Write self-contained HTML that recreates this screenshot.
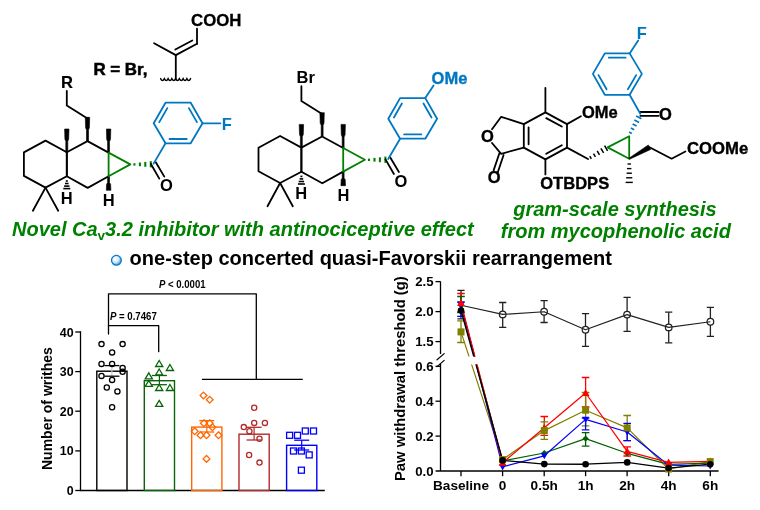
<!DOCTYPE html>
<html><head><meta charset="utf-8"><style>
html,body{margin:0;padding:0;background:#fff;}
body{width:760px;height:510px;overflow:hidden;}
svg{display:block;font-family:"Liberation Sans",Arial,sans-serif;}
</style></head><body>
<svg width="760" height="510" viewBox="0 0 760 510">
<rect width="760" height="510" fill="#fff"/>
<g id="structures">
<polyline points="66.8,152.2 45.5,140.6 23.9,152.4 23.9,175.9 45.5,187.6 66.8,176.3 66.8,152.2 87.5,141.1 108.6,152.6" fill="none" stroke="#000" stroke-width="1.8" stroke-linejoin="round" stroke-linecap="round"/>
<polyline points="108.6,176.2 87.7,187.9 66.8,176.3" fill="none" stroke="#000" stroke-width="1.8" stroke-linejoin="round" stroke-linecap="round"/>
<line x1="66.8" y1="152.2" x2="66.8" y2="176.3" stroke="#000" stroke-width="1.8" stroke-linecap="round"/>
<line x1="45.5" y1="187.6" x2="32.9" y2="210.8" stroke="#000" stroke-width="1.8" stroke-linecap="round"/>
<line x1="45.5" y1="187.6" x2="58.2" y2="210.8" stroke="#000" stroke-width="1.8" stroke-linecap="round"/>
<polygon points="67.8,152.2 67.8,141.3 68.7,139.2 69.0,129.0 64.6,129.0 64.9,139.2 65.8,141.3 65.8,152.2" fill="#000" stroke="#000" stroke-width="0.6" stroke-linejoin="round"/>
<polygon points="88.5,141.1 88.5,129.9 89.4,127.8 89.7,117.3 85.3,117.3 85.6,127.8 86.5,129.9 86.5,141.1" fill="#000" stroke="#000" stroke-width="0.6" stroke-linejoin="round"/>
<polygon points="109.5,152.6 109.5,141.5 110.5,139.4 110.8,129.0 106.4,129.0 106.7,139.4 107.6,141.5 107.6,152.6" fill="#000" stroke="#000" stroke-width="0.6" stroke-linejoin="round"/>
<polygon points="107.6,176.2 107.6,182.8 106.6,184.1 106.3,190.3 110.9,190.3 110.6,184.1 109.5,182.8 109.5,176.2" fill="#000" stroke="#000" stroke-width="0.6" stroke-linejoin="round"/>
<polyline points="87.5,118.5 66.8,105.5 66.8,90.8" fill="none" stroke="#000" stroke-width="1.8" stroke-linejoin="round" stroke-linecap="round"/>
<line x1="65.8" y1="181.0" x2="67.8" y2="181.0" stroke="#000" stroke-width="1.6" stroke-linecap="butt"/>
<line x1="65.0" y1="183.5" x2="68.6" y2="183.5" stroke="#000" stroke-width="1.6" stroke-linecap="butt"/>
<line x1="64.1" y1="186.1" x2="69.5" y2="186.1" stroke="#000" stroke-width="1.6" stroke-linecap="butt"/>
<line x1="63.3" y1="188.6" x2="70.3" y2="188.6" stroke="#000" stroke-width="1.6" stroke-linecap="butt"/>
<polygon points="108.6,152.6 130.3,164.4 108.6,176.2" fill="none" stroke="#008000" stroke-width="1.8" stroke-linejoin="round" stroke-linecap="round"/>
<line x1="134.4" y1="165.6" x2="134.4" y2="163.2" stroke="#008000" stroke-width="2.1" stroke-linecap="butt"/>
<line x1="139.9" y1="166.2" x2="139.9" y2="162.5" stroke="#008000" stroke-width="2.1" stroke-linecap="butt"/>
<line x1="145.3" y1="166.8" x2="145.3" y2="161.9" stroke="#008000" stroke-width="2.1" stroke-linecap="butt"/>
<line x1="150.8" y1="167.4" x2="150.8" y2="161.2" stroke="#008000" stroke-width="2.1" stroke-linecap="butt"/>
<line x1="150.9" y1="164.0" x2="159.3" y2="178.6" stroke="#000" stroke-width="1.8" stroke-linecap="round"/>
<line x1="155.8" y1="162.3" x2="164.3" y2="176.6" stroke="#000" stroke-width="1.8" stroke-linecap="round"/>
<text x="166.3" y="191.3" font-size="16.5" font-weight="bold" font-style="normal" fill="#000" text-anchor="middle" >O</text>
<text x="66.6" y="203.8" font-size="16.5" font-weight="bold" font-style="normal" fill="#000" text-anchor="middle" >H</text>
<text x="108.8" y="205.6" font-size="16.5" font-weight="bold" font-style="normal" fill="#000" text-anchor="middle" >H</text>
<text x="66.9" y="87.8" font-size="16.5" font-weight="bold" font-style="normal" fill="#000" text-anchor="middle" stroke="#000" stroke-width="0.2" >R</text>
<polygon points="165.5,102.7 190.7,102.7 202.5,123.3 190.7,143.3 165.5,143.3 153.7,123.3" fill="none" stroke="#0078c1" stroke-width="1.8" stroke-linejoin="round" stroke-linecap="round"/>
<line x1="159.3" y1="122.1" x2="167.3" y2="108.1" stroke="#0078c1" stroke-width="1.8" stroke-linecap="round"/>
<line x1="188.9" y1="108.1" x2="196.9" y2="122.1" stroke="#0078c1" stroke-width="1.8" stroke-linecap="round"/>
<line x1="169.5" y1="139.0" x2="186.7" y2="139.0" stroke="#0078c1" stroke-width="1.8" stroke-linecap="round"/>
<line x1="165.5" y1="143.3" x2="153.6" y2="163.6" stroke="#0078c1" stroke-width="1.8" stroke-linecap="round"/>
<line x1="202.5" y1="123.3" x2="220.4" y2="123.3" stroke="#0078c1" stroke-width="1.8" stroke-linecap="round"/>
<text x="221.8" y="129.8" font-size="16.5" font-weight="bold" font-style="normal" fill="#0078c1" text-anchor="start" >F</text>
<polyline points="301.4,147.6 280.1,136.0 258.5,147.8 258.5,171.3 280.1,183.0 301.4,171.7 301.4,147.6 322.1,136.5 343.2,148.0" fill="none" stroke="#000" stroke-width="1.8" stroke-linejoin="round" stroke-linecap="round"/>
<polyline points="343.2,171.6 322.3,183.3 301.4,171.7" fill="none" stroke="#000" stroke-width="1.8" stroke-linejoin="round" stroke-linecap="round"/>
<line x1="301.4" y1="147.6" x2="301.4" y2="171.7" stroke="#000" stroke-width="1.8" stroke-linecap="round"/>
<line x1="280.1" y1="183.0" x2="267.5" y2="206.2" stroke="#000" stroke-width="1.8" stroke-linecap="round"/>
<line x1="280.1" y1="183.0" x2="292.8" y2="206.2" stroke="#000" stroke-width="1.8" stroke-linecap="round"/>
<polygon points="302.3,147.6 302.3,136.7 303.3,134.6 303.6,124.4 299.2,124.4 299.5,134.6 300.4,136.7 300.4,147.6" fill="#000" stroke="#000" stroke-width="0.6" stroke-linejoin="round"/>
<polygon points="323.1,136.5 323.1,125.3 324.0,123.2 324.3,112.7 319.9,112.7 320.2,123.2 321.2,125.3 321.2,136.5" fill="#000" stroke="#000" stroke-width="0.6" stroke-linejoin="round"/>
<polygon points="344.1,148.0 344.1,136.9 345.1,134.8 345.4,124.4 341.0,124.4 341.3,134.8 342.2,136.9 342.2,148.0" fill="#000" stroke="#000" stroke-width="0.6" stroke-linejoin="round"/>
<polygon points="342.2,171.6 342.2,178.2 341.2,179.5 340.9,185.7 345.5,185.7 345.2,179.5 344.1,178.2 344.1,171.6" fill="#000" stroke="#000" stroke-width="0.6" stroke-linejoin="round"/>
<polyline points="322.1,113.9 301.4,100.9 301.4,86.2" fill="none" stroke="#000" stroke-width="1.8" stroke-linejoin="round" stroke-linecap="round"/>
<line x1="300.4" y1="176.4" x2="302.4" y2="176.4" stroke="#000" stroke-width="1.6" stroke-linecap="butt"/>
<line x1="299.6" y1="178.9" x2="303.2" y2="178.9" stroke="#000" stroke-width="1.6" stroke-linecap="butt"/>
<line x1="298.7" y1="181.5" x2="304.1" y2="181.5" stroke="#000" stroke-width="1.6" stroke-linecap="butt"/>
<line x1="297.9" y1="184.0" x2="304.9" y2="184.0" stroke="#000" stroke-width="1.6" stroke-linecap="butt"/>
<polygon points="343.2,148.0 364.9,159.8 343.2,171.6" fill="none" stroke="#008000" stroke-width="1.8" stroke-linejoin="round" stroke-linecap="round"/>
<line x1="369.0" y1="161.0" x2="369.0" y2="158.6" stroke="#008000" stroke-width="2.1" stroke-linecap="butt"/>
<line x1="374.5" y1="161.6" x2="374.5" y2="157.9" stroke="#008000" stroke-width="2.1" stroke-linecap="butt"/>
<line x1="379.9" y1="162.2" x2="379.9" y2="157.3" stroke="#008000" stroke-width="2.1" stroke-linecap="butt"/>
<line x1="385.4" y1="162.8" x2="385.4" y2="156.6" stroke="#008000" stroke-width="2.1" stroke-linecap="butt"/>
<line x1="385.5" y1="159.4" x2="393.9" y2="174.0" stroke="#000" stroke-width="1.8" stroke-linecap="round"/>
<line x1="390.4" y1="157.7" x2="398.9" y2="172.0" stroke="#000" stroke-width="1.8" stroke-linecap="round"/>
<text x="400.9" y="186.7" font-size="16.5" font-weight="bold" font-style="normal" fill="#000" text-anchor="middle" >O</text>
<text x="301.2" y="199.2" font-size="16.5" font-weight="bold" font-style="normal" fill="#000" text-anchor="middle" >H</text>
<text x="343.4" y="201.0" font-size="16.5" font-weight="bold" font-style="normal" fill="#000" text-anchor="middle" >H</text>
<text x="296.6" y="83.2" font-size="16.5" font-weight="bold" font-style="normal" fill="#000" text-anchor="start" >Br</text>
<polygon points="400.1,98.1 425.3,98.1 437.1,118.7 425.3,138.7 400.1,138.7 388.3,118.7" fill="none" stroke="#0078c1" stroke-width="1.8" stroke-linejoin="round" stroke-linecap="round"/>
<line x1="393.9" y1="117.5" x2="401.9" y2="103.5" stroke="#0078c1" stroke-width="1.8" stroke-linecap="round"/>
<line x1="423.5" y1="103.5" x2="431.5" y2="117.5" stroke="#0078c1" stroke-width="1.8" stroke-linecap="round"/>
<line x1="404.1" y1="134.4" x2="421.3" y2="134.4" stroke="#0078c1" stroke-width="1.8" stroke-linecap="round"/>
<line x1="400.1" y1="138.7" x2="388.2" y2="159.0" stroke="#0078c1" stroke-width="1.8" stroke-linecap="round"/>
<line x1="425.3" y1="98.1" x2="433.6" y2="85.5" stroke="#0078c1" stroke-width="1.8" stroke-linecap="round"/>
<text x="431.6" y="84.2" font-size="16.5" font-weight="bold" font-style="normal" fill="#0078c1" text-anchor="start" stroke="#0078c1" stroke-width="0.35" >OMe</text>
<text x="93.4" y="75.2" font-size="16.3" font-weight="bold" font-style="normal" fill="#000" text-anchor="start" textLength="54.0" lengthAdjust="spacingAndGlyphs" stroke="#000" stroke-width="0.5">R = Br,</text>
<path d="M160.6,78.6 q1.9,3.9 3.75,0 q1.9,3.9 3.75,0 q1.9,3.9 3.75,0 q1.9,3.9 3.75,0 q1.9,3.9 3.75,0 q1.9,3.9 3.75,0 q1.9,3.9 3.75,0 q1.9,3.9 3.75,0" fill="none" stroke="#000" stroke-width="1.4" stroke-linecap="round" stroke-linejoin="miter"/>
<line x1="175.8" y1="79.4" x2="175.8" y2="55.1" stroke="#000" stroke-width="1.8" stroke-linecap="round"/>
<line x1="175.8" y1="55.1" x2="154.1" y2="43.2" stroke="#000" stroke-width="1.8" stroke-linecap="round"/>
<line x1="175.8" y1="55.1" x2="197.0" y2="43.8" stroke="#000" stroke-width="1.8" stroke-linecap="round"/>
<line x1="175.3" y1="49.5" x2="192.3" y2="40.5" stroke="#000" stroke-width="1.8" stroke-linecap="round"/>
<line x1="197.0" y1="43.8" x2="197.0" y2="28.6" stroke="#000" stroke-width="1.8" stroke-linecap="round"/>
<text x="191.0" y="25.9" font-size="16.5" font-weight="bold" font-style="normal" fill="#000" text-anchor="start" textLength="50.4" lengthAdjust="spacingAndGlyphs" stroke="#000" stroke-width="0.3">COOH</text>
<polygon points="545.4,112.4 567.0,124.1 567.0,147.6 545.4,159.4 523.8,147.6 523.8,124.1" fill="none" stroke="#000" stroke-width="1.8" stroke-linejoin="round" stroke-linecap="round"/>
<line x1="546.2" y1="118.1" x2="561.8" y2="126.5" stroke="#000" stroke-width="1.8" stroke-linecap="round"/>
<line x1="561.8" y1="145.2" x2="546.2" y2="153.7" stroke="#000" stroke-width="1.8" stroke-linecap="round"/>
<line x1="528.6" y1="144.3" x2="528.6" y2="127.4" stroke="#000" stroke-width="1.8" stroke-linecap="round"/>
<line x1="545.4" y1="112.4" x2="545.4" y2="87.8" stroke="#000" stroke-width="1.8" stroke-linecap="round"/>
<polyline points="523.8,124.1 501.2,116.8 492.0,129.2" fill="none" stroke="#000" stroke-width="1.8" stroke-linejoin="round" stroke-linecap="round"/>
<polyline points="492.0,143.0 501.2,153.8 523.8,147.6" fill="none" stroke="#000" stroke-width="1.8" stroke-linejoin="round" stroke-linecap="round"/>
<text x="487.4" y="142.2" font-size="16.5" font-weight="bold" font-style="normal" fill="#000" text-anchor="middle" stroke="#000" stroke-width="0.35" >O</text>
<line x1="499.4" y1="153.2" x2="493.6" y2="170.4" stroke="#000" stroke-width="1.8" stroke-linecap="round"/>
<line x1="503.6" y1="155.0" x2="497.8" y2="172.2" stroke="#000" stroke-width="1.8" stroke-linecap="round"/>
<text x="494.1" y="183.0" font-size="16.5" font-weight="bold" font-style="normal" fill="#000" text-anchor="middle" stroke="#000" stroke-width="0.35" >O</text>
<line x1="567.0" y1="124.1" x2="580.9" y2="116.3" stroke="#000" stroke-width="1.8" stroke-linecap="round"/>
<text x="582.0" y="117.6" font-size="16.5" font-weight="bold" font-style="normal" fill="#000" text-anchor="start" stroke="#000" stroke-width="0.35" >OMe</text>
<line x1="545.4" y1="159.4" x2="545.4" y2="174.4" stroke="#000" stroke-width="1.8" stroke-linecap="round"/>
<text x="540.2" y="188.7" font-size="16.5" font-weight="bold" font-style="normal" fill="#000" text-anchor="start" stroke="#000" stroke-width="0.35" textLength="69.0" lengthAdjust="spacingAndGlyphs">OTBDPS</text>
<line x1="567.0" y1="147.6" x2="588.0" y2="159.0" stroke="#000" stroke-width="1.8" stroke-linecap="round"/>
<line x1="591.3" y1="158.8" x2="589.8" y2="156.2" stroke="#000" stroke-width="1.5" stroke-linecap="butt"/>
<line x1="595.4" y1="156.8" x2="593.5" y2="153.6" stroke="#000" stroke-width="1.5" stroke-linecap="butt"/>
<line x1="599.5" y1="154.8" x2="597.2" y2="150.9" stroke="#000" stroke-width="1.5" stroke-linecap="butt"/>
<line x1="603.6" y1="152.8" x2="600.9" y2="148.3" stroke="#000" stroke-width="1.5" stroke-linecap="butt"/>
<line x1="607.6" y1="150.8" x2="604.6" y2="145.6" stroke="#000" stroke-width="1.5" stroke-linecap="butt"/>
<polygon points="607.6,147.4 629.2,136.2 629.2,158.8" fill="none" stroke="#008000" stroke-width="1.8" stroke-linejoin="round" stroke-linecap="round"/>
<line x1="627.5" y1="164.0" x2="630.9" y2="164.0" stroke="#000" stroke-width="1.4" stroke-linecap="butt"/>
<line x1="627.0" y1="168.6" x2="631.4" y2="168.6" stroke="#000" stroke-width="1.4" stroke-linecap="butt"/>
<line x1="626.6" y1="173.2" x2="631.9" y2="173.2" stroke="#000" stroke-width="1.4" stroke-linecap="butt"/>
<line x1="626.1" y1="177.8" x2="632.3" y2="177.8" stroke="#000" stroke-width="1.4" stroke-linecap="butt"/>
<line x1="625.6" y1="182.4" x2="632.8" y2="182.4" stroke="#000" stroke-width="1.4" stroke-linecap="butt"/>
<polygon points="629.5,159.3 650.7,149.4 648.3,145.0 628.9,158.3" fill="#000" stroke="#000" stroke-width="0.6" stroke-linejoin="round"/>
<polyline points="649.5,147.2 671.6,158.7 685.4,151.5" fill="none" stroke="#000" stroke-width="1.8" stroke-linejoin="round" stroke-linecap="round"/>
<text x="687.0" y="153.7" font-size="16.5" font-weight="bold" font-style="normal" fill="#000" text-anchor="start" stroke="#000" stroke-width="0.35" textLength="61.2" lengthAdjust="spacingAndGlyphs">COOMe</text>
<line x1="631.8" y1="133.5" x2="629.1" y2="132.1" stroke="#0078c1" stroke-width="1.7" stroke-linecap="butt"/>
<line x1="634.2" y1="129.8" x2="630.9" y2="128.1" stroke="#0078c1" stroke-width="1.7" stroke-linecap="butt"/>
<line x1="636.6" y1="126.1" x2="632.6" y2="124.0" stroke="#0078c1" stroke-width="1.7" stroke-linecap="butt"/>
<line x1="639.0" y1="122.4" x2="634.4" y2="119.9" stroke="#0078c1" stroke-width="1.7" stroke-linecap="butt"/>
<line x1="641.4" y1="118.7" x2="636.1" y2="115.9" stroke="#0078c1" stroke-width="1.7" stroke-linecap="butt"/>
<line x1="640.3" y1="112.0" x2="658.7" y2="112.0" stroke="#000" stroke-width="1.8" stroke-linecap="round"/>
<line x1="640.3" y1="115.8" x2="658.7" y2="115.8" stroke="#000" stroke-width="1.8" stroke-linecap="round"/>
<text x="665.3" y="120.0" font-size="16.5" font-weight="bold" font-style="normal" fill="#000" text-anchor="middle" stroke="#000" stroke-width="0.35" >O</text>
<polygon points="604.8,53.4 629.6,53.4 641.9,73.9 629.6,94.8 604.8,94.8 592.9,73.9" fill="none" stroke="#0078c1" stroke-width="1.8" stroke-linejoin="round" stroke-linecap="round"/>
<line x1="608.8" y1="57.7" x2="625.6" y2="57.7" stroke="#0078c1" stroke-width="1.8" stroke-linecap="round"/>
<line x1="636.2" y1="75.1" x2="627.9" y2="89.3" stroke="#0078c1" stroke-width="1.8" stroke-linecap="round"/>
<line x1="598.5" y1="75.1" x2="606.6" y2="89.3" stroke="#0078c1" stroke-width="1.8" stroke-linecap="round"/>
<line x1="629.6" y1="94.8" x2="640.3" y2="113.8" stroke="#0078c1" stroke-width="1.8" stroke-linecap="round"/>
<line x1="629.6" y1="53.4" x2="638.2" y2="40.6" stroke="#0078c1" stroke-width="1.8" stroke-linecap="round"/>
<text x="641.7" y="39.4" font-size="16.5" font-weight="bold" font-style="normal" fill="#0078c1" text-anchor="middle" >F</text>
<text x="12.0" y="235.8" font-size="20" font-weight="bold" font-style="italic" fill="#008000" text-anchor="start" >Novel Ca<tspan font-size="13.5" font-style="normal" dy="3.8">v</tspan><tspan dy="-3.8">3.2 inhibitor with antinociceptive effect</tspan></text>
<text x="513.2" y="216.4" font-size="20" font-weight="bold" font-style="italic" fill="#008000" text-anchor="start" >gram-scale synthesis</text>
<text x="500.8" y="238.0" font-size="20" font-weight="bold" font-style="italic" fill="#008000" text-anchor="start" >from mycophenolic acid</text>
<defs><radialGradient id="bg" cx="0.38" cy="0.36" r="0.75"><stop offset="0" stop-color="#ffffff"/><stop offset="0.45" stop-color="#d6eaf8"/><stop offset="0.85" stop-color="#4aa0dc"/><stop offset="1" stop-color="#0a78c8"/></radialGradient></defs>
<circle cx="116.4" cy="260.3" r="4.9" fill="url(#bg)" stroke="#0a78c8" stroke-width="1.3"/>
<text x="129.6" y="265.1" font-size="20" font-weight="bold" font-style="normal" fill="#000" text-anchor="start" >one-step concerted quasi-Favorskii rearrangement</text>
</g>
<g id="bars">
<line x1="80.5" y1="331.9" x2="80.5" y2="490.5" stroke="#000" stroke-width="1.3" stroke-linecap="square"/>
<line x1="80.5" y1="490.5" x2="324.8" y2="490.5" stroke="#000" stroke-width="1.3" stroke-linecap="butt"/>
<line x1="75.3" y1="490.5" x2="80.5" y2="490.5" stroke="#000" stroke-width="1.3" stroke-linecap="butt"/>
<text x="73.6" y="495.0" font-size="12.4" font-weight="bold" font-style="normal" fill="#000" text-anchor="end" >0</text>
<line x1="75.3" y1="450.9" x2="80.5" y2="450.9" stroke="#000" stroke-width="1.3" stroke-linecap="butt"/>
<text x="73.6" y="455.4" font-size="12.4" font-weight="bold" font-style="normal" fill="#000" text-anchor="end" >10</text>
<line x1="75.3" y1="411.2" x2="80.5" y2="411.2" stroke="#000" stroke-width="1.3" stroke-linecap="butt"/>
<text x="73.6" y="415.8" font-size="12.4" font-weight="bold" font-style="normal" fill="#000" text-anchor="end" >20</text>
<line x1="75.3" y1="371.6" x2="80.5" y2="371.6" stroke="#000" stroke-width="1.3" stroke-linecap="butt"/>
<text x="73.6" y="376.1" font-size="12.4" font-weight="bold" font-style="normal" fill="#000" text-anchor="end" >30</text>
<line x1="75.3" y1="332.0" x2="80.5" y2="332.0" stroke="#000" stroke-width="1.3" stroke-linecap="butt"/>
<text x="73.6" y="336.5" font-size="12.4" font-weight="bold" font-style="normal" fill="#000" text-anchor="end" >40</text>
<text transform="translate(52.3,470) rotate(-90)" font-size="14" font-weight="bold" fill="#000">Number of writhes</text>
<rect x="96.8" y="371.2" width="30.2" height="119.3" fill="none" stroke="#000000" stroke-width="1.4"/>
<rect x="144.3" y="380.7" width="30.2" height="109.8" fill="none" stroke="#0a640a" stroke-width="1.4"/>
<rect x="191.7" y="427.1" width="30.2" height="63.4" fill="none" stroke="#ff6600" stroke-width="1.4"/>
<rect x="239.0" y="434.2" width="30.2" height="56.3" fill="none" stroke="#b22a2a" stroke-width="1.4"/>
<rect x="286.6" y="445.3" width="30.2" height="45.2" fill="none" stroke="#0000ff" stroke-width="1.4"/>
<line x1="111.9" y1="365.6" x2="111.9" y2="376.2" stroke="#c8c8c8" stroke-width="1.2" stroke-linecap="butt"/>
<line x1="104.4" y1="365.6" x2="119.4" y2="365.6" stroke="#000" stroke-width="1.3" stroke-linecap="butt"/>
<line x1="104.4" y1="376.2" x2="119.4" y2="376.2" stroke="#000" stroke-width="1.3" stroke-linecap="butt"/>
<line x1="159.4" y1="375.5" x2="159.4" y2="384.7" stroke="#0a640a" stroke-width="1.2" stroke-linecap="butt"/>
<line x1="151.9" y1="375.5" x2="166.9" y2="375.5" stroke="#0a640a" stroke-width="1.3" stroke-linecap="butt"/>
<line x1="151.9" y1="384.7" x2="166.9" y2="384.7" stroke="#0a640a" stroke-width="1.3" stroke-linecap="butt"/>
<line x1="206.8" y1="420.6" x2="206.8" y2="432.0" stroke="#ff6600" stroke-width="1.2" stroke-linecap="butt"/>
<line x1="199.3" y1="420.6" x2="214.3" y2="420.6" stroke="#ff6600" stroke-width="1.3" stroke-linecap="butt"/>
<line x1="199.3" y1="432.0" x2="214.3" y2="432.0" stroke="#ff6600" stroke-width="1.3" stroke-linecap="butt"/>
<line x1="254.1" y1="427.3" x2="254.1" y2="440.0" stroke="#b22a2a" stroke-width="1.2" stroke-linecap="butt"/>
<line x1="246.6" y1="427.3" x2="261.6" y2="427.3" stroke="#b22a2a" stroke-width="1.3" stroke-linecap="butt"/>
<line x1="246.6" y1="440.0" x2="261.6" y2="440.0" stroke="#b22a2a" stroke-width="1.3" stroke-linecap="butt"/>
<line x1="301.7" y1="440.2" x2="301.7" y2="450.0" stroke="#0000ff" stroke-width="1.2" stroke-linecap="butt"/>
<line x1="294.2" y1="440.2" x2="309.2" y2="440.2" stroke="#0000ff" stroke-width="1.3" stroke-linecap="butt"/>
<line x1="294.2" y1="450.0" x2="309.2" y2="450.0" stroke="#0000ff" stroke-width="1.3" stroke-linecap="butt"/>
<circle cx="101.5" cy="344.1" r="2.6" fill="none" stroke="#000" stroke-width="1.3"/>
<circle cx="122.6" cy="344.1" r="2.6" fill="none" stroke="#000" stroke-width="1.3"/>
<circle cx="112.1" cy="352.4" r="2.6" fill="none" stroke="#000" stroke-width="1.3"/>
<circle cx="101.5" cy="363.9" r="2.6" fill="none" stroke="#000" stroke-width="1.3"/>
<circle cx="112.1" cy="363.9" r="2.6" fill="none" stroke="#000" stroke-width="1.3"/>
<circle cx="122.6" cy="367.9" r="2.6" fill="none" stroke="#000" stroke-width="1.3"/>
<circle cx="122.6" cy="371.8" r="2.6" fill="none" stroke="#000" stroke-width="1.3"/>
<circle cx="101.5" cy="375.9" r="2.6" fill="none" stroke="#000" stroke-width="1.3"/>
<circle cx="112.1" cy="379.9" r="2.6" fill="none" stroke="#000" stroke-width="1.3"/>
<circle cx="106.8" cy="387.5" r="2.6" fill="none" stroke="#000" stroke-width="1.3"/>
<circle cx="117.4" cy="391.4" r="2.6" fill="none" stroke="#000" stroke-width="1.3"/>
<circle cx="112.1" cy="407.3" r="2.6" fill="none" stroke="#000" stroke-width="1.3"/>
<polygon points="159.2,360.5 162.8,366.5 155.6,366.5" fill="none" stroke="#0a640a" stroke-width="1.3" stroke-linejoin="miter"/>
<polygon points="169.9,364.5 173.5,370.5 166.3,370.5" fill="none" stroke="#0a640a" stroke-width="1.3" stroke-linejoin="miter"/>
<polygon points="159.2,369.0 162.8,375.0 155.6,375.0" fill="none" stroke="#0a640a" stroke-width="1.3" stroke-linejoin="miter"/>
<polygon points="148.8,372.8 152.4,378.8 145.2,378.8" fill="none" stroke="#0a640a" stroke-width="1.3" stroke-linejoin="miter"/>
<polygon points="148.8,380.4 152.4,386.4 145.2,386.4" fill="none" stroke="#0a640a" stroke-width="1.3" stroke-linejoin="miter"/>
<polygon points="159.2,384.5 162.8,390.5 155.6,390.5" fill="none" stroke="#0a640a" stroke-width="1.3" stroke-linejoin="miter"/>
<polygon points="169.9,384.5 173.5,390.5 166.3,390.5" fill="none" stroke="#0a640a" stroke-width="1.3" stroke-linejoin="miter"/>
<polygon points="159.2,400.4 162.8,406.4 155.6,406.4" fill="none" stroke="#0a640a" stroke-width="1.3" stroke-linejoin="miter"/>
<polygon points="203.5,392.1 206.9,395.5 203.5,398.9 200.1,395.5" fill="none" stroke="#ff6600" stroke-width="1.3"/>
<polygon points="209.7,396.4 213.1,399.8 209.7,403.2 206.3,399.8" fill="none" stroke="#ff6600" stroke-width="1.3"/>
<polygon points="203.9,419.8 207.3,423.2 203.9,426.6 200.5,423.2" fill="none" stroke="#ff6600" stroke-width="1.3"/>
<polygon points="209.7,419.8 213.1,423.2 209.7,426.6 206.3,423.2" fill="none" stroke="#ff6600" stroke-width="1.3"/>
<polygon points="212.4,423.9 215.8,427.3 212.4,430.7 209.0,427.3" fill="none" stroke="#ff6600" stroke-width="1.3"/>
<polygon points="194.7,427.8 198.1,431.2 194.7,434.6 191.3,431.2" fill="none" stroke="#ff6600" stroke-width="1.3"/>
<polygon points="200.5,431.8 203.9,435.2 200.5,438.6 197.1,435.2" fill="none" stroke="#ff6600" stroke-width="1.3"/>
<polygon points="206.5,431.8 209.9,435.2 206.5,438.6 203.1,435.2" fill="none" stroke="#ff6600" stroke-width="1.3"/>
<polygon points="218.5,431.8 221.9,435.2 218.5,438.6 215.1,435.2" fill="none" stroke="#ff6600" stroke-width="1.3"/>
<polygon points="206.5,455.5 209.9,458.9 206.5,462.3 203.1,458.9" fill="none" stroke="#ff6600" stroke-width="1.3"/>
<circle cx="254.2" cy="407.7" r="2.6" fill="none" stroke="#b22a2a" stroke-width="1.3"/>
<circle cx="243.8" cy="427.1" r="2.6" fill="none" stroke="#b22a2a" stroke-width="1.3"/>
<circle cx="254.2" cy="422.9" r="2.6" fill="none" stroke="#b22a2a" stroke-width="1.3"/>
<circle cx="264.9" cy="422.9" r="2.6" fill="none" stroke="#b22a2a" stroke-width="1.3"/>
<circle cx="249.4" cy="431.2" r="2.6" fill="none" stroke="#b22a2a" stroke-width="1.3"/>
<circle cx="259.5" cy="438.8" r="2.6" fill="none" stroke="#b22a2a" stroke-width="1.3"/>
<circle cx="249.1" cy="455.0" r="2.6" fill="none" stroke="#b22a2a" stroke-width="1.3"/>
<circle cx="259.5" cy="462.6" r="2.6" fill="none" stroke="#b22a2a" stroke-width="1.3"/>
<rect x="286.6" y="432.3" width="6" height="6" fill="none" stroke="#0000ff" stroke-width="1.3"/>
<rect x="294.5" y="432.3" width="6" height="6" fill="none" stroke="#0000ff" stroke-width="1.3"/>
<rect x="302.3" y="428.0" width="6" height="6" fill="none" stroke="#0000ff" stroke-width="1.3"/>
<rect x="310.5" y="428.0" width="6" height="6" fill="none" stroke="#0000ff" stroke-width="1.3"/>
<rect x="290.5" y="448.0" width="6" height="6" fill="none" stroke="#0000ff" stroke-width="1.3"/>
<rect x="298.4" y="448.0" width="6" height="6" fill="none" stroke="#0000ff" stroke-width="1.3"/>
<rect x="306.2" y="451.9" width="6" height="6" fill="none" stroke="#0000ff" stroke-width="1.3"/>
<rect x="298.4" y="467.2" width="6" height="6" fill="none" stroke="#0000ff" stroke-width="1.3"/>
<polyline points="108.5,334.0 108.5,293.8 256.3,293.8 256.3,379.3" fill="none" stroke="#000" stroke-width="1.3" stroke-linejoin="round" stroke-linecap="round"/>
<line x1="201.9" y1="379.3" x2="302.8" y2="379.3" stroke="#000" stroke-width="1.3" stroke-linecap="butt"/>
<polyline points="108.5,325.7 158.7,325.7 158.7,351.7" fill="none" stroke="#000" stroke-width="1.3" stroke-linejoin="round" stroke-linecap="round"/>
<text x="159.0" y="288.0" font-size="10" font-weight="bold" font-style="normal" fill="#000" text-anchor="start" textLength="46.6" lengthAdjust="spacingAndGlyphs"><tspan font-style="italic">P</tspan> &lt; 0.0001</text>
<text x="109.9" y="320.2" font-size="10" font-weight="bold" font-style="normal" fill="#000" text-anchor="start" textLength="46.9" lengthAdjust="spacingAndGlyphs"><tspan font-style="italic">P</tspan> = 0.7467</text>
<line x1="440.5" y1="281.4" x2="440.5" y2="354.0" stroke="#000" stroke-width="1.3" stroke-linecap="butt"/>
<line x1="440.5" y1="363.6" x2="440.5" y2="471.0" stroke="#000" stroke-width="1.3" stroke-linecap="butt"/>
<line x1="435.6" y1="471.0" x2="718.6" y2="471.0" stroke="#000" stroke-width="1.3" stroke-linecap="butt"/>
<line x1="437.0" y1="359.8" x2="444.2" y2="353.6" stroke="#000" stroke-width="1.2" stroke-linecap="round"/>
<line x1="437.0" y1="366.6" x2="444.2" y2="360.4" stroke="#000" stroke-width="1.2" stroke-linecap="round"/>
<line x1="435.5" y1="281.6" x2="440.5" y2="281.6" stroke="#000" stroke-width="1.3" stroke-linecap="butt"/>
<text x="433.6" y="286.3" font-size="13.2" font-weight="bold" font-style="normal" fill="#000" text-anchor="end" >2.5</text>
<line x1="435.5" y1="311.6" x2="440.5" y2="311.6" stroke="#000" stroke-width="1.3" stroke-linecap="butt"/>
<text x="433.6" y="316.3" font-size="13.2" font-weight="bold" font-style="normal" fill="#000" text-anchor="end" >2.0</text>
<line x1="435.5" y1="341.6" x2="440.5" y2="341.6" stroke="#000" stroke-width="1.3" stroke-linecap="butt"/>
<text x="433.6" y="346.3" font-size="13.2" font-weight="bold" font-style="normal" fill="#000" text-anchor="end" >1.5</text>
<line x1="435.5" y1="366.3" x2="440.5" y2="366.3" stroke="#000" stroke-width="1.3" stroke-linecap="butt"/>
<text x="433.6" y="371.0" font-size="13.2" font-weight="bold" font-style="normal" fill="#000" text-anchor="end" >0.6</text>
<line x1="435.5" y1="401.2" x2="440.5" y2="401.2" stroke="#000" stroke-width="1.3" stroke-linecap="butt"/>
<text x="433.6" y="405.9" font-size="13.2" font-weight="bold" font-style="normal" fill="#000" text-anchor="end" >0.4</text>
<line x1="435.5" y1="436.1" x2="440.5" y2="436.1" stroke="#000" stroke-width="1.3" stroke-linecap="butt"/>
<text x="433.6" y="440.8" font-size="13.2" font-weight="bold" font-style="normal" fill="#000" text-anchor="end" >0.2</text>
<text x="433.6" y="475.7" font-size="13.2" font-weight="bold" font-style="normal" fill="#000" text-anchor="end" >0.0</text>
<line x1="461.0" y1="471.0" x2="461.0" y2="476.2" stroke="#000" stroke-width="1.3" stroke-linecap="butt"/>
<text x="461.0" y="489.8" font-size="13.6" font-weight="bold" font-style="normal" fill="#000" text-anchor="middle" >Baseline</text>
<line x1="502.6" y1="471.0" x2="502.6" y2="476.2" stroke="#000" stroke-width="1.3" stroke-linecap="butt"/>
<text x="502.6" y="489.8" font-size="13.6" font-weight="bold" font-style="normal" fill="#000" text-anchor="middle" >0</text>
<line x1="544.2" y1="471.0" x2="544.2" y2="476.2" stroke="#000" stroke-width="1.3" stroke-linecap="butt"/>
<text x="544.2" y="489.8" font-size="13.6" font-weight="bold" font-style="normal" fill="#000" text-anchor="middle" >0.5h</text>
<line x1="585.6" y1="471.0" x2="585.6" y2="476.2" stroke="#000" stroke-width="1.3" stroke-linecap="butt"/>
<text x="585.6" y="489.8" font-size="13.6" font-weight="bold" font-style="normal" fill="#000" text-anchor="middle" >1h</text>
<line x1="627.1" y1="471.0" x2="627.1" y2="476.2" stroke="#000" stroke-width="1.3" stroke-linecap="butt"/>
<text x="627.1" y="489.8" font-size="13.6" font-weight="bold" font-style="normal" fill="#000" text-anchor="middle" >2h</text>
<line x1="668.7" y1="471.0" x2="668.7" y2="476.2" stroke="#000" stroke-width="1.3" stroke-linecap="butt"/>
<text x="668.7" y="489.8" font-size="13.6" font-weight="bold" font-style="normal" fill="#000" text-anchor="middle" >4h</text>
<line x1="710.3" y1="471.0" x2="710.3" y2="476.2" stroke="#000" stroke-width="1.3" stroke-linecap="butt"/>
<text x="710.3" y="489.8" font-size="13.6" font-weight="bold" font-style="normal" fill="#000" text-anchor="middle" >6h</text>
<text transform="translate(405.2,481) rotate(-90)" font-size="14.8" font-weight="bold" fill="#000">Paw withdrawal threshold (g)</text>
</g>
<defs><clipPath id="gap"><path d="M380,270H760V356.5H380Z M380,364.6H760V510H380Z" clip-rule="evenodd"/></clipPath></defs>
<g id="series" clip-path="url(#gap)">
<line x1="461.0" y1="290.3" x2="461.0" y2="318.9" stroke="#222222" stroke-width="1.3" stroke-linecap="butt"/>
<line x1="457.4" y1="290.3" x2="464.6" y2="290.3" stroke="#222222" stroke-width="1.3" stroke-linecap="butt"/>
<line x1="457.4" y1="318.9" x2="464.6" y2="318.9" stroke="#222222" stroke-width="1.3" stroke-linecap="butt"/>
<line x1="502.7" y1="302.5" x2="502.7" y2="327.3" stroke="#222222" stroke-width="1.3" stroke-linecap="butt"/>
<line x1="499.1" y1="302.5" x2="506.3" y2="302.5" stroke="#222222" stroke-width="1.3" stroke-linecap="butt"/>
<line x1="499.1" y1="327.3" x2="506.3" y2="327.3" stroke="#222222" stroke-width="1.3" stroke-linecap="butt"/>
<line x1="544.1" y1="300.6" x2="544.1" y2="322.5" stroke="#222222" stroke-width="1.3" stroke-linecap="butt"/>
<line x1="540.5" y1="300.6" x2="547.7" y2="300.6" stroke="#222222" stroke-width="1.3" stroke-linecap="butt"/>
<line x1="540.5" y1="322.5" x2="547.7" y2="322.5" stroke="#222222" stroke-width="1.3" stroke-linecap="butt"/>
<line x1="585.5" y1="313.7" x2="585.5" y2="346.3" stroke="#222222" stroke-width="1.3" stroke-linecap="butt"/>
<line x1="581.9" y1="313.7" x2="589.1" y2="313.7" stroke="#222222" stroke-width="1.3" stroke-linecap="butt"/>
<line x1="581.9" y1="346.3" x2="589.1" y2="346.3" stroke="#222222" stroke-width="1.3" stroke-linecap="butt"/>
<line x1="627.1" y1="297.4" x2="627.1" y2="331.3" stroke="#222222" stroke-width="1.3" stroke-linecap="butt"/>
<line x1="623.5" y1="297.4" x2="630.7" y2="297.4" stroke="#222222" stroke-width="1.3" stroke-linecap="butt"/>
<line x1="623.5" y1="331.3" x2="630.7" y2="331.3" stroke="#222222" stroke-width="1.3" stroke-linecap="butt"/>
<line x1="668.7" y1="312.2" x2="668.7" y2="342.8" stroke="#222222" stroke-width="1.3" stroke-linecap="butt"/>
<line x1="665.1" y1="312.2" x2="672.3" y2="312.2" stroke="#222222" stroke-width="1.3" stroke-linecap="butt"/>
<line x1="665.1" y1="342.8" x2="672.3" y2="342.8" stroke="#222222" stroke-width="1.3" stroke-linecap="butt"/>
<line x1="710.4" y1="307.4" x2="710.4" y2="336.4" stroke="#222222" stroke-width="1.3" stroke-linecap="butt"/>
<line x1="706.8" y1="307.4" x2="714.0" y2="307.4" stroke="#222222" stroke-width="1.3" stroke-linecap="butt"/>
<line x1="706.8" y1="336.4" x2="714.0" y2="336.4" stroke="#222222" stroke-width="1.3" stroke-linecap="butt"/>
<circle cx="502.7" cy="314.4" r="3.3" fill="#fff"/>
<circle cx="544.1" cy="311.7" r="3.3" fill="#fff"/>
<circle cx="585.5" cy="329.7" r="3.3" fill="#fff"/>
<circle cx="627.1" cy="314.6" r="3.3" fill="#fff"/>
<circle cx="668.7" cy="327.4" r="3.3" fill="#fff"/>
<circle cx="710.4" cy="321.7" r="3.3" fill="#fff"/>
<polyline points="461.0,305.2 502.7,314.4 544.1,311.7 585.5,329.7 627.1,314.6 668.7,327.4 710.4,321.7" fill="none" stroke="#222222" stroke-width="1.15" stroke-linejoin="round"/>
<circle cx="502.7" cy="314.4" r="3.3" fill="none" stroke="#222222" stroke-width="1.25"/>
<circle cx="544.1" cy="311.7" r="3.3" fill="none" stroke="#222222" stroke-width="1.25"/>
<circle cx="585.5" cy="329.7" r="3.3" fill="none" stroke="#222222" stroke-width="1.25"/>
<circle cx="627.1" cy="314.6" r="3.3" fill="none" stroke="#222222" stroke-width="1.25"/>
<circle cx="668.7" cy="327.4" r="3.3" fill="none" stroke="#222222" stroke-width="1.25"/>
<circle cx="710.4" cy="321.7" r="3.3" fill="none" stroke="#222222" stroke-width="1.25"/>
<line x1="461.0" y1="293.5" x2="461.0" y2="312.0" stroke="#ff0000" stroke-width="1.3" stroke-linecap="butt"/>
<line x1="457.2" y1="293.5" x2="464.8" y2="293.5" stroke="#ff0000" stroke-width="1.3" stroke-linecap="butt"/>
<line x1="457.2" y1="312.0" x2="464.8" y2="312.0" stroke="#ff0000" stroke-width="1.3" stroke-linecap="butt"/>
<line x1="461.0" y1="296.5" x2="461.0" y2="312.5" stroke="#006000" stroke-width="1.3" stroke-linecap="butt"/>
<line x1="457.2" y1="296.5" x2="464.8" y2="296.5" stroke="#006000" stroke-width="1.3" stroke-linecap="butt"/>
<line x1="457.2" y1="312.5" x2="464.8" y2="312.5" stroke="#006000" stroke-width="1.3" stroke-linecap="butt"/>
<line x1="461.0" y1="302.0" x2="461.0" y2="316.4" stroke="#0000ff" stroke-width="1.3" stroke-linecap="butt"/>
<line x1="457.2" y1="302.0" x2="464.8" y2="302.0" stroke="#0000ff" stroke-width="1.3" stroke-linecap="butt"/>
<line x1="457.2" y1="316.4" x2="464.8" y2="316.4" stroke="#0000ff" stroke-width="1.3" stroke-linecap="butt"/>
<line x1="461.0" y1="320.8" x2="461.0" y2="342.5" stroke="#808000" stroke-width="1.3" stroke-linecap="butt"/>
<line x1="457.2" y1="320.8" x2="464.8" y2="320.8" stroke="#808000" stroke-width="1.3" stroke-linecap="butt"/>
<line x1="457.2" y1="342.5" x2="464.8" y2="342.5" stroke="#808000" stroke-width="1.3" stroke-linecap="butt"/>
<line x1="544.3" y1="416.5" x2="544.3" y2="435.3" stroke="#ff0000" stroke-width="1.3" stroke-linecap="butt"/>
<line x1="540.5" y1="416.5" x2="548.1" y2="416.5" stroke="#ff0000" stroke-width="1.3" stroke-linecap="butt"/>
<line x1="540.5" y1="435.3" x2="548.1" y2="435.3" stroke="#ff0000" stroke-width="1.3" stroke-linecap="butt"/>
<line x1="544.3" y1="421.8" x2="544.3" y2="439.4" stroke="#808000" stroke-width="1.3" stroke-linecap="butt"/>
<line x1="540.5" y1="421.8" x2="548.1" y2="421.8" stroke="#808000" stroke-width="1.3" stroke-linecap="butt"/>
<line x1="540.5" y1="439.4" x2="548.1" y2="439.4" stroke="#808000" stroke-width="1.3" stroke-linecap="butt"/>
<line x1="585.6" y1="377.5" x2="585.6" y2="407.0" stroke="#ff0000" stroke-width="1.3" stroke-linecap="butt"/>
<line x1="581.8" y1="377.5" x2="589.4" y2="377.5" stroke="#ff0000" stroke-width="1.3" stroke-linecap="butt"/>
<line x1="581.8" y1="407.0" x2="589.4" y2="407.0" stroke="#ff0000" stroke-width="1.3" stroke-linecap="butt"/>
<line x1="585.6" y1="392.5" x2="585.6" y2="425.9" stroke="#808000" stroke-width="1.3" stroke-linecap="butt"/>
<line x1="581.8" y1="392.5" x2="589.4" y2="392.5" stroke="#808000" stroke-width="1.3" stroke-linecap="butt"/>
<line x1="581.8" y1="425.9" x2="589.4" y2="425.9" stroke="#808000" stroke-width="1.3" stroke-linecap="butt"/>
<line x1="585.6" y1="418.0" x2="585.6" y2="429.8" stroke="#0000ff" stroke-width="1.3" stroke-linecap="butt"/>
<line x1="581.8" y1="418.0" x2="589.4" y2="418.0" stroke="#0000ff" stroke-width="1.3" stroke-linecap="butt"/>
<line x1="581.8" y1="429.8" x2="589.4" y2="429.8" stroke="#0000ff" stroke-width="1.3" stroke-linecap="butt"/>
<line x1="585.6" y1="432.7" x2="585.6" y2="446.1" stroke="#006000" stroke-width="1.3" stroke-linecap="butt"/>
<line x1="581.8" y1="432.7" x2="589.4" y2="432.7" stroke="#006000" stroke-width="1.3" stroke-linecap="butt"/>
<line x1="581.8" y1="446.1" x2="589.4" y2="446.1" stroke="#006000" stroke-width="1.3" stroke-linecap="butt"/>
<line x1="627.2" y1="415.5" x2="627.2" y2="440.6" stroke="#808000" stroke-width="1.3" stroke-linecap="butt"/>
<line x1="623.4" y1="415.5" x2="631.0" y2="415.5" stroke="#808000" stroke-width="1.3" stroke-linecap="butt"/>
<line x1="623.4" y1="440.6" x2="631.0" y2="440.6" stroke="#808000" stroke-width="1.3" stroke-linecap="butt"/>
<line x1="627.2" y1="423.3" x2="627.2" y2="440.7" stroke="#0000ff" stroke-width="1.3" stroke-linecap="butt"/>
<line x1="623.4" y1="423.3" x2="631.0" y2="423.3" stroke="#0000ff" stroke-width="1.3" stroke-linecap="butt"/>
<line x1="623.4" y1="440.7" x2="631.0" y2="440.7" stroke="#0000ff" stroke-width="1.3" stroke-linecap="butt"/>
<line x1="627.2" y1="446.9" x2="627.2" y2="456.0" stroke="#ff0000" stroke-width="1.3" stroke-linecap="butt"/>
<line x1="623.4" y1="446.9" x2="631.0" y2="446.9" stroke="#ff0000" stroke-width="1.3" stroke-linecap="butt"/>
<line x1="623.4" y1="456.0" x2="631.0" y2="456.0" stroke="#ff0000" stroke-width="1.3" stroke-linecap="butt"/>
<polyline points="461.0,331.9 502.6,459.6 544.3,430.6 585.6,410.2 627.2,427.9 668.6,469.0 710.2,461.6" fill="none" stroke="#808000" stroke-width="1.2" stroke-linejoin="round"/>
<polyline points="461.0,305.5 502.6,460.9 544.3,453.0 585.6,438.6 627.2,453.3 668.6,464.3 710.2,463.2" fill="none" stroke="#006000" stroke-width="1.2" stroke-linejoin="round"/>
<polyline points="461.0,304.5 502.6,466.9 544.3,455.8 585.6,419.4 627.2,432.0 668.6,465.2 710.2,466.0" fill="none" stroke="#0000ff" stroke-width="1.2" stroke-linejoin="round"/>
<polyline points="461.0,303.0 502.6,462.8 544.3,427.8 585.6,393.0 627.2,451.4 668.6,462.3 710.2,461.4" fill="none" stroke="#ff0000" stroke-width="1.25" stroke-linejoin="round"/>
<polyline points="461.0,310.5 502.6,460.4 544.3,464.1 585.6,464.2 627.2,462.4 668.6,468.1 710.2,464.2" fill="none" stroke="#000" stroke-width="1.35" stroke-linejoin="round"/>
<polygon points="461.0,302.4 464.1,305.5 461.0,308.6 457.9,305.5" fill="#006000"/>
<polygon points="502.6,457.8 505.7,460.9 502.6,464.0 499.5,460.9" fill="#006000"/>
<polygon points="544.3,449.9 547.4,453.0 544.3,456.1 541.2,453.0" fill="#006000"/>
<polygon points="585.6,435.5 588.7,438.6 585.6,441.7 582.5,438.6" fill="#006000"/>
<polygon points="627.2,450.2 630.3,453.3 627.2,456.4 624.1,453.3" fill="#006000"/>
<polygon points="668.6,461.2 671.7,464.3 668.6,467.4 665.5,464.3" fill="#006000"/>
<polygon points="710.2,460.1 713.3,463.2 710.2,466.3 707.1,463.2" fill="#006000"/>
<polygon points="461.0,308.0 464.5,301.9 457.5,301.9" fill="#0000ff"/>
<polygon points="502.6,470.4 506.1,464.3 499.1,464.3" fill="#0000ff"/>
<polygon points="544.3,459.3 547.8,453.2 540.8,453.2" fill="#0000ff"/>
<polygon points="585.6,422.9 589.1,416.8 582.1,416.8" fill="#0000ff"/>
<polygon points="627.2,435.5 630.7,429.4 623.7,429.4" fill="#0000ff"/>
<polygon points="668.6,468.7 672.1,462.6 665.1,462.6" fill="#0000ff"/>
<polygon points="710.2,469.5 713.7,463.4 706.7,463.4" fill="#0000ff"/>
<polygon points="461.0,299.1 464.9,305.9 457.1,305.9" fill="#ff0000"/>
<polygon points="502.6,458.9 506.5,465.7 498.7,465.7" fill="#ff0000"/>
<polygon points="544.3,423.9 548.2,430.7 540.4,430.7" fill="#ff0000"/>
<polygon points="585.6,389.1 589.5,395.9 581.7,395.9" fill="#ff0000"/>
<polygon points="627.2,447.5 631.1,454.3 623.3,454.3" fill="#ff0000"/>
<polygon points="668.6,458.4 672.5,465.2 664.7,465.2" fill="#ff0000"/>
<polygon points="710.2,457.5 714.1,464.3 706.3,464.3" fill="#ff0000"/>
<rect x="457.5" y="328.4" width="7.0" height="7.0" fill="#808000"/>
<rect x="499.1" y="456.1" width="7.0" height="7.0" fill="#808000"/>
<rect x="540.8" y="427.1" width="7.0" height="7.0" fill="#808000"/>
<rect x="582.1" y="406.7" width="7.0" height="7.0" fill="#808000"/>
<rect x="623.7" y="424.4" width="7.0" height="7.0" fill="#808000"/>
<rect x="665.1" y="465.5" width="7.0" height="7.0" fill="#808000"/>
<rect x="706.7" y="458.1" width="7.0" height="7.0" fill="#808000"/>
<circle cx="461.0" cy="310.5" r="3.3" fill="#000"/>
<circle cx="502.6" cy="460.4" r="3.3" fill="#000"/>
<circle cx="544.3" cy="464.1" r="3.3" fill="#000"/>
<circle cx="585.6" cy="464.2" r="3.3" fill="#000"/>
<circle cx="627.2" cy="462.4" r="3.3" fill="#000"/>
<circle cx="668.6" cy="468.1" r="3.3" fill="#000"/>
<circle cx="710.2" cy="464.2" r="3.3" fill="#000"/>
</g>
</svg>
</body></html>
